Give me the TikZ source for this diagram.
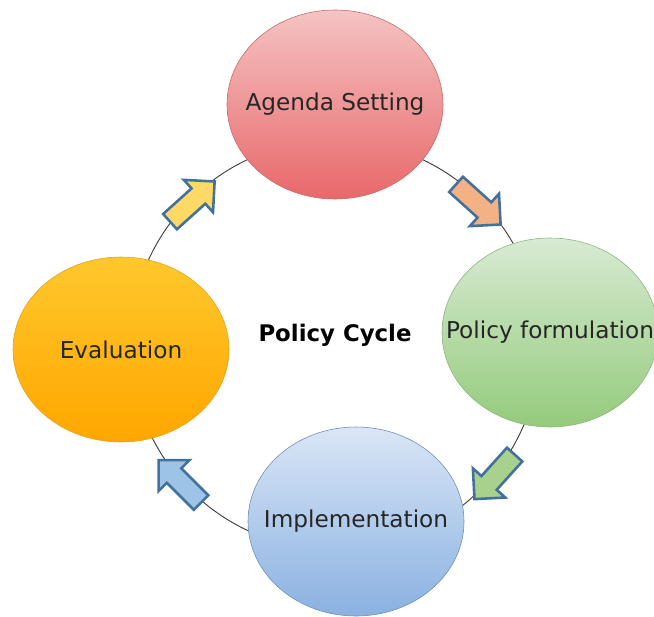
\documentclass[tikz,border=0pt]{standalone}
\usepackage{tikz}
\usepackage{xcolor}
\usepackage{fontspec}
\setmainfont{DejaVu Sans}
\usetikzlibrary{shapes.geometric,shapes.arrows}

\definecolor{redtop}{HTML}{F5C3C3}
\definecolor{redbot}{HTML}{E8686A}
\definecolor{redline}{HTML}{C76A6A}
\definecolor{greentop}{HTML}{D8EAD3}
\definecolor{greenbot}{HTML}{94CB7C}
\definecolor{greenline}{HTML}{8FB47E}
\definecolor{bluetop}{HTML}{D9E6F6}
\definecolor{bluebot}{HTML}{8AB1E1}
\definecolor{blueline}{HTML}{6D8FB8}
\definecolor{orangetop}{HTML}{FFC82C}
\definecolor{orangebot}{HTML}{FFA600}
\definecolor{orangeline}{HTML}{E6A21E}
\definecolor{arrline}{HTML}{41719C}
\definecolor{arrpeach}{HTML}{F4B183}
\definecolor{arrgreen}{HTML}{A9D18E}
\definecolor{arrblue}{HTML}{9DC3E6}
\definecolor{arryellow}{HTML}{FFD966}
\definecolor{labeltext}{HTML}{262626}

\newcommand{\stagetext}[1]{\makebox[0pt]{#1}}

\tikzset{
  stage/.style={ellipse, minimum width=6.48cm, minimum height=5.67cm, inner sep=0pt,
    line width=0.5pt, text=labeltext, font=\fontsize{19.8}{23}\selectfont},
  turn/.style={single arrow, minimum height=1.8cm, inner xsep=0pt, inner ysep=0.27cm,
    single arrow head extend=0.345cm, draw=arrline, line width=2.2pt}
}

\begin{document}
\begin{tikzpicture}[scale=0.3]
				\useasboundingbox (0,0) rectangle (65.4,-61.6);
				\clip (0,0) rectangle (65.4,-61.6);
				\coordinate (hub) at (33.5,-34.5);
				\draw [black!75, line width=0.8pt] (hub) circle (20.5);
				\node [stage, draw=redline, top color=redtop, bottom color=redbot] (agenda) at (33.5,-10.45) {\stagetext{Agenda Setting}};
				\node [stage, draw=greenline, top color=greentop, bottom color=greenbot] (formulation) at (55.0,-33.25) {\stagetext{Policy formulation}};
				\node [stage, draw=blueline, top color=bluetop, bottom color=bluebot] (implementation) at (35.6,-52.15) {\stagetext{Implementation}};
				\node [stage, draw=orangeline, top color=orangetop, bottom color=orangebot, minimum height=5.55cm] (evaluation) at (12.1,-34.95) {\stagetext{Evaluation}};
				\node [font=\fontsize{19.5}{23}\selectfont\bfseries] (title) at (33.5,-33.5) {Policy Cycle};
				\node [turn, fill=arrpeach, rotate=-42] (arrAF) at (47.45,-20.1) {};
				\node [turn, fill=arrgreen, rotate=-132] (arrFI) at (49.8,-47.3) {};
				\node [turn, fill=arrblue, rotate=135] (arrIE) at (18.35,-48.5) {};
				\node [turn, fill=arryellow, rotate=42] (arrEA) at (18.85,-20.5) {};
			\end{tikzpicture}
\end{document}
